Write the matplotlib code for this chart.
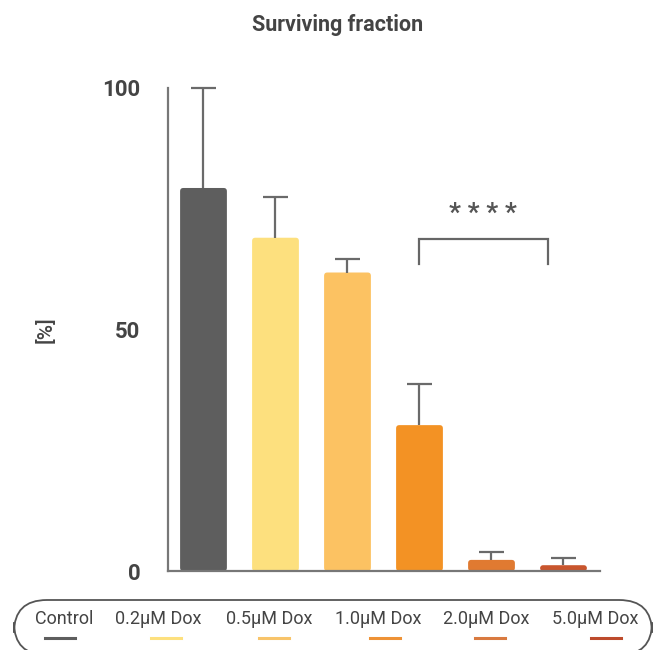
import matplotlib
matplotlib.use("Agg")
import matplotlib.pyplot as plt
from matplotlib.patches import FancyBboxPatch
from matplotlib.lines import Line2D

categories = ["Control", "0.2μM Dox", "0.5μM Dox", "1.0μM Dox", "2.0μM Dox", "5.0μM Dox"]
values = [79.3, 69.0, 61.8, 30.2, 2.3, 1.2]
errors = [20.7, 8.5, 2.7, 8.6, 1.6, 1.5]
colors = ["#5e5e5e", "#fde07e", "#fcc262", "#f39224", "#e07a31", "#c9552d"]
legend_colors = ["#5e5e5e", "#fde07e", "#f8c46a", "#ee9236", "#d97a40", "#bd4b2c"]
yticks = [0, 50, 100]

plt.rcParams['font.family'] = ['Roboto', 'DejaVu Sans']

fig = plt.figure(figsize=(6.57, 6.5), dpi=100)
W, H = 657, 650
ax = fig.add_axes([168 / W, (650 - 571) / H, 432 / W, (571 - 88) / H])

x = list(range(len(categories)))
bars = ax.bar(x, values, width=0.65, color=colors, zorder=2)
# rounded bar corners
aspect = (100 / 483) / (6.0 / 432)
for b in bars:
    bx, by, bw, bh = b.get_x(), b.get_y(), b.get_width(), b.get_height()
    r = min(0.045, bh / aspect / 2)
    fb = FancyBboxPatch((bx, by), bw, bh, boxstyle=f"round,pad=0,rounding_size={r}",
                        mutation_aspect=aspect, facecolor=b.get_facecolor(),
                        edgecolor='none', zorder=2)
    b.remove()
    ax.add_patch(fb)

tops = [v + e for v, e in zip(values, errors)]
ax.vlines(x, values, tops, color="#6a6a6a", lw=1.6, zorder=3, clip_on=False)
ax.hlines(tops, [i - 0.17 for i in x], [i + 0.17 for i in x], color="#6a6a6a",
          lw=1.6, zorder=3, clip_on=False)

ax.set_xlim(-0.493, 5.507)
ax.set_ylim(0, 100)
ax.set_yticks(yticks)
ax.set_yticklabels([str(t) for t in yticks], fontsize=16, fontweight='bold', color="#444444")
ax.tick_params(axis='y', length=0, pad=20)
ax.set_xticks([])
for s in ['top', 'right']:
    ax.spines[s].set_visible(False)
for s in ['left', 'bottom']:
    ax.spines[s].set_color("#777777")
    ax.spines[s].set_linewidth(1.6)
    ax.spines[s].set_zorder(4)

# significance bracket
ax.plot([2.99, 2.99, 4.78, 4.78], [63.5, 68.8, 68.8, 63.5], color="#666666", lw=1.6,
        solid_joinstyle='miter')
ax.text(3.88, 74.0, "* * * *", ha='center', va='center', fontsize=19,
        fontweight='bold', color="#555555")

fig.text(338 / W, 1 - 25 / H, "Surviving fraction", ha='center', va='center',
         fontsize=15.5, fontweight='bold', color="#444444")
fig.text(46 / W, 1 - 330 / H, "[%]", ha='center', va='center', rotation=90,
         fontsize=15, fontweight='medium', color="#444444")

# legend box
box = FancyBboxPatch((14 / W, (650 - 655) / H), (652 - 14) / W, 55 / H,
                     boxstyle="round,pad=0,rounding_size=0.05",
                     transform=fig.transFigure, fill=False, edgecolor="#555555",
                     linewidth=1.3, clip_on=False, mutation_aspect=1)
fig.patches.append(box)

text_cx = [64, 158, 269, 378, 486, 595]
line_cx = [60, 166, 274, 385, 490, 606]
for lab, c, tx, lx in zip(categories, legend_colors, text_cx, line_cx):
    fig.text(tx / W, 1 - 619 / H, lab, ha='center', va='center', fontsize=13, color="#444444")
    fig.lines.append(Line2D([(lx - 15) / W, (lx + 15) / W], [1 - 638 / H, 1 - 638 / H],
                            transform=fig.transFigure, color=c, lw=2.2))

fig.savefig("out.png", dpi=100)
